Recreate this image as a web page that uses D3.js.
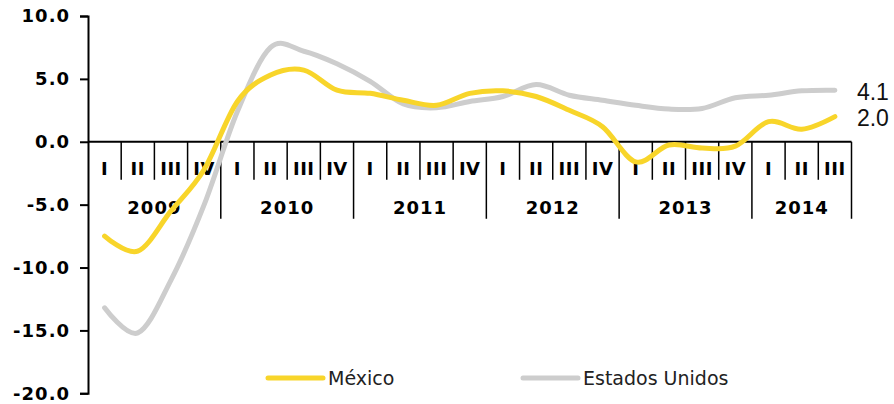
<!DOCTYPE html>
<html><head><meta charset="utf-8">
<script src="https://cdn.jsdelivr.net/npm/d3@7/dist/d3.min.js"></script>
<style>
html,body{margin:0;padding:0;background:#fff;}
svg{display:block;}
</style></head>
<body>
<script>
const years = ["2009","2010","2011","2012","2013","2014"];
const quarterLabels = ["I","II","III","IV","I","II","III","IV","I","II","III","IV","I","II","III","IV","I","II","III","IV","I","II","III"];
const quarterYears = ["2009","2009","2009","2009","2010","2010","2010","2010","2011","2011","2011","2011","2012","2012","2012","2012","2013","2013","2013","2013","2014","2014","2014"];
const mexico = [-7.5,-8.7,-5.5,-2.2,3.2,5.3,5.7,4.1,3.85,3.3,2.9,3.85,4.05,3.6,2.5,1.2,-1.6,-0.26,-0.5,-0.35,1.6,1.0,2.0];
const eeuu = [-13.2,-15.2,-11.0,-5.0,2.4,7.5,7.2,6.2,4.8,3.0,2.7,3.2,3.6,4.55,3.7,3.3,2.9,2.6,2.65,3.5,3.7,4.05,4.1];
const yTicks = [10,5,0,-5,-10,-15,-20];
const seriesNames = ["México","Estados Unidos"];
const colors = ["#F8D52A","#CDCDCD"];

const W = 894, H = 404;
const svg = d3.select("body").append("svg").attr("width",W).attr("height",H);

const left = 88, right = 851.5;
const n = quarterLabels.length;
const x = d3.scaleBand().domain(d3.range(n)).range([left,right]).paddingInner(0).paddingOuter(0);
const y = d3.scaleLinear().domain([-20,10]).range([393.3,16]);

const axisFont = "'DejaVu Sans', sans-serif";
function axisText(sel){ sel.style("font-family",axisFont).style("font-weight","bold").style("font-size","18px").style("letter-spacing","1px").attr("fill","#000"); }

// Y axis
const yAxis = d3.axisLeft(y).tickValues(yTicks).tickSize(8).tickPadding(10).tickFormat(d3.format(".1f"));
const gy = svg.append("g").attr("transform",`translate(${left},0)`).call(yAxis);
gy.select(".domain").attr("stroke","#000").attr("stroke-width",2);
gy.selectAll(".tick line").attr("stroke","#000").attr("stroke-width",2);
gy.selectAll(".tick text").call(axisText).text(d => d3.format(".1f")(d).replace("−","-"));

// X axis baseline at zero
const y0 = y(0);
svg.append("line").attr("x1",left).attr("x2",right).attr("y1",y0).attr("y2",y0).attr("stroke","#000").attr("stroke-width",2);

// quarter dividers
const gx = svg.append("g");
for (let i = 1; i <= n; i++) {
  const xb = i < n ? x(i) : right;
  const isYear = (i === n) || (quarterYears[i] !== quarterYears[i-1]);
  gx.append("line").attr("x1",xb).attr("x2",xb).attr("y1",y0).attr("y2", isYear ? y0+77 : y0+38)
    .attr("stroke","#000").attr("stroke-width",1.5);
}
// quarter labels
gx.selectAll("text.q").data(quarterLabels).enter().append("text")
  .attr("x",(d,i)=>x(i)+x.bandwidth()/2).attr("y",y0+33)
  .attr("text-anchor","middle").call(axisText).style("letter-spacing","0.5px")
  .text(d=>d);
// year labels
years.forEach(yr => {
  const idx = quarterYears.map((q,i)=>q===yr?i:-1).filter(i=>i>=0);
  const x1 = x(idx[0]), x2 = x(idx[idx.length-1]) + x.bandwidth();
  gx.append("text").attr("x",(x1+x2)/2).attr("y",y0+72).attr("text-anchor","middle")
    .call(axisText).text(yr);
});

// lines
const line = d3.line().x((d,i)=>x(i)+x.bandwidth()/2).y(d=>y(d)).curve(d3.curveCatmullRom.alpha(0));
[[eeuu,colors[1]],[mexico,colors[0]]].forEach(([data,c]) => {
  svg.append("path").datum(data).attr("d",line).attr("fill","none").attr("stroke",c)
    .attr("stroke-width",5).attr("stroke-linecap","round").attr("stroke-linejoin","round");
});

// end labels
const lastX = x(n-1)+x.bandwidth()/2;
[[eeuu],[mexico]].forEach(([data]) => {
  svg.append("text").attr("x",lastX+22).attr("y",y(data[n-1])+9.5)
    .style("font-family","'Liberation Sans', sans-serif").style("font-size","23px").attr("fill","#111")
    .text(d3.format(".1f")(data[n-1]));
});

// legend
const legY = 378;
const legItems = [{name:seriesNames[0],c:colors[0],x:268},{name:seriesNames[1],c:colors[1],x:523}];
legItems.forEach(it => {
  svg.append("line").attr("x1",it.x).attr("x2",it.x+55).attr("y1",legY).attr("y2",legY).attr("stroke",it.c).attr("stroke-width",5).attr("stroke-linecap","round");
  svg.append("text").attr("x",it.x+60).attr("y",legY+7).style("font-family","'DejaVu Sans', sans-serif").style("font-size","19px").attr("fill","#222").text(it.name);
});
</script>
</body></html>
